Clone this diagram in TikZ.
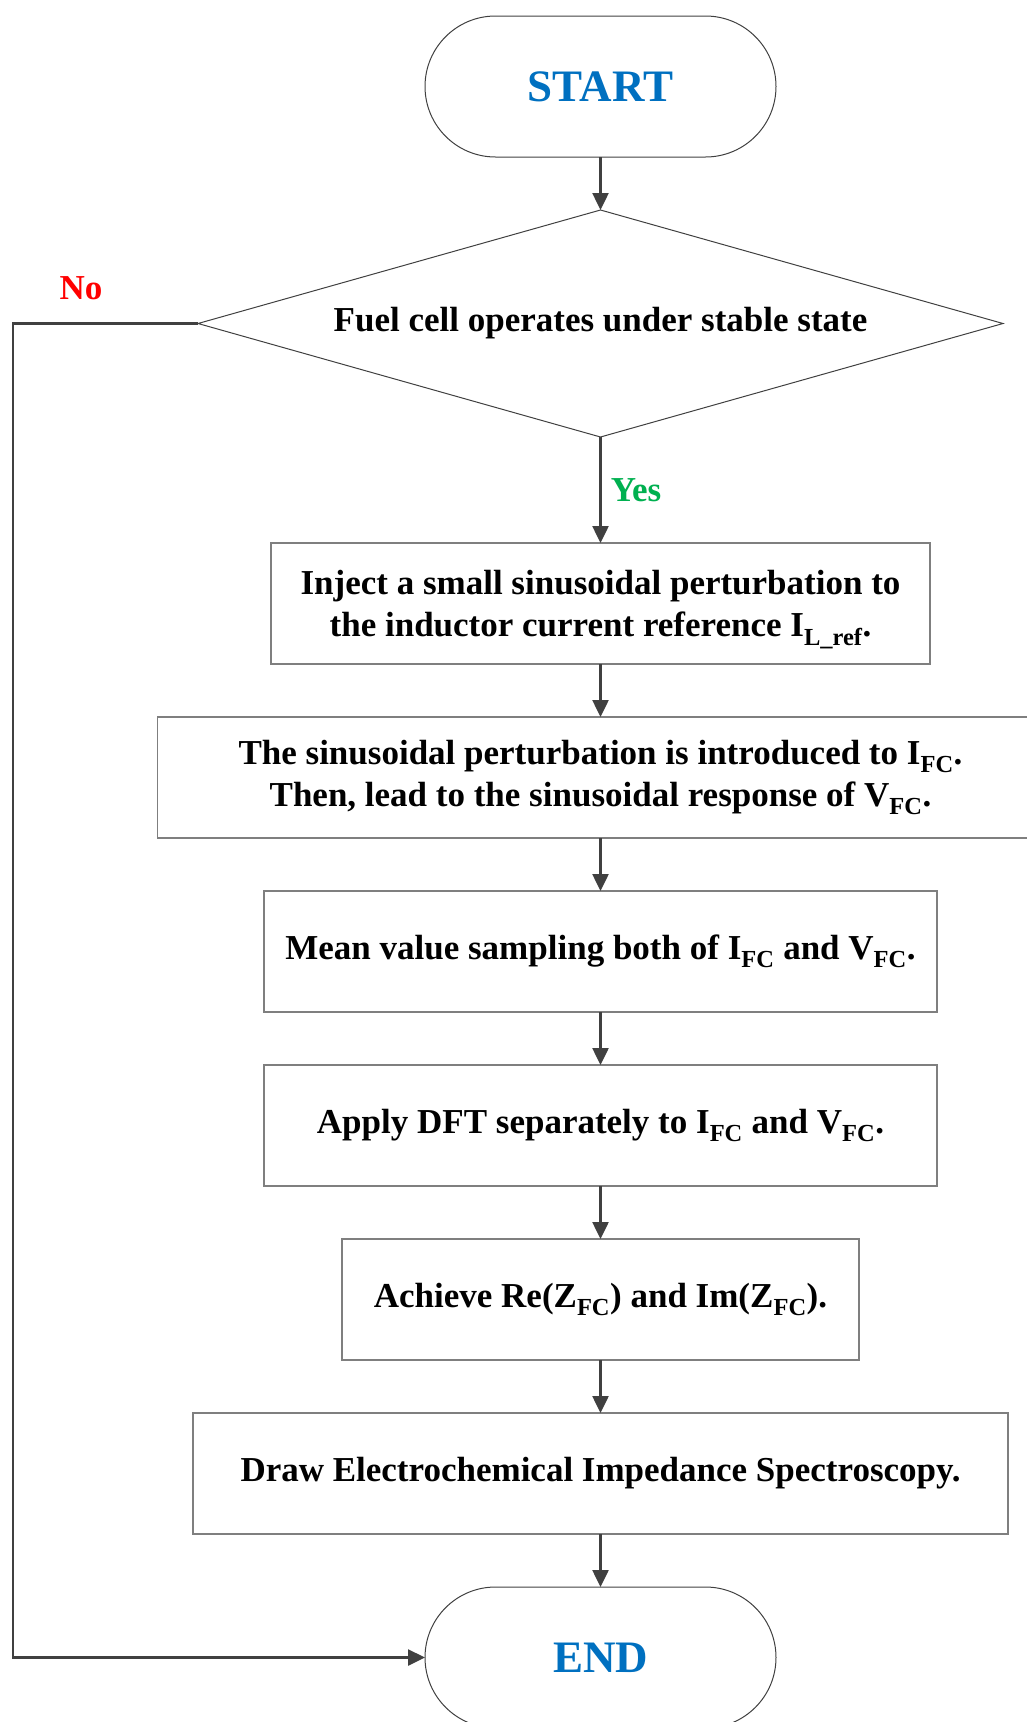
\documentclass[tikz,border=0pt]{standalone}
\usepackage{fontspec}
\setmainfont{Liberation Serif}
\usetikzlibrary{arrows.meta, positioning, shapes.geometric}
\definecolor{lineGray}{HTML}{404040}
\definecolor{boxGray}{HTML}{7F7F7F}
\definecolor{termBlue}{HTML}{0070C0}
\definecolor{yesGreen}{HTML}{00B050}
\definecolor{noRed}{HTML}{FF0000}
% subscript that does not push the line apart
\newcommand{\lowsub}[1]{\smash{\textsubscript{#1}}}
\tikzset{
  term/.style={draw=lineGray, line width=1pt, rounded corners=70.5pt, minimum width=351pt,
    minimum height=141pt, inner sep=0pt, outer sep=0pt, text=termBlue,
    font=\fontsize{45}{54}\selectfont\bfseries},
  proc/.style={draw=boxGray, line width=1.5pt, minimum width=#1, minimum height=121pt,
    outer sep=0pt, align=center, font=\fontsize{35}{42}\selectfont\bfseries},
  decision/.style={draw=lineGray, line width=1pt, diamond, aspect=3.55, minimum width=805pt,
    minimum height=227pt, inner sep=0pt, outer sep=0pt, font=\fontsize{35}{42}\selectfont\bfseries},
  lbl/.style={inner sep=0pt, font=\fontsize{35}{42}\selectfont\bfseries},
  arr/.style={-{Triangle[length=17pt, width=16pt]}, draw=lineGray, line width=2.5pt},
}

\begin{document}
\begin{tikzpicture}[node distance=53pt]
  \useasboundingbox (0,0) rectangle (1027pt,-1722pt);

  \node[term] (start) at (600.5pt,-86.5pt) {START};
  \node[decision, below=of start] (dec) {Fuel cell operates under stable state};
  \node[proc=659pt, below=106pt of dec] (inject) {Inject a small sinusoidal perturbation to\\
    the inductor current reference I\lowsub{L\_ref}.};
  \node[proc=886pt, below=of inject] (perturb) {The sinusoidal perturbation is introduced to I\lowsub{FC}.\\
    Then, lead to the sinusoidal response of V\lowsub{FC}.};
  \node[proc=673pt, below=of perturb] (sample) {Mean value sampling both of I\lowsub{FC} and V\lowsub{FC}.};
  \node[proc=673pt, below=of sample] (dft) {Apply DFT separately to I\lowsub{FC} and V\lowsub{FC}.};
  \node[proc=517pt, below=of dft] (imped) {Achieve Re(Z\lowsub{FC}) and Im(Z\lowsub{FC}).};
  \node[proc=815pt, below=of imped] (eis) {Draw Electrochemical Impedance Spectroscopy.};
  \node[term, below=of eis] (stop) {END};

  % main flow
  \draw[arr] (start) -- (dec);
  \draw[arr] (dec) -- node[lbl, right=9pt, text=yesGreen] (yes) {Yes} (inject);
  \draw[arr] (inject) -- (perturb);
  \draw[arr] (perturb) -- (sample);
  \draw[arr] (sample) -- (dft);
  \draw[arr] (dft) -- (imped);
  \draw[arr] (imped) -- (eis);
  \draw[arr] (eis) -- (stop);

  % "No" branch back to the end
  \coordinate (rail) at (13pt,0);
  \coordinate (noturn) at (dec.west -| rail);
  \node[lbl, text=noRed] (no) at (81pt,-288pt) {No};
  \draw[arr] (dec.west) -- (noturn) |- (stop.west);
\end{tikzpicture}
\end{document}
